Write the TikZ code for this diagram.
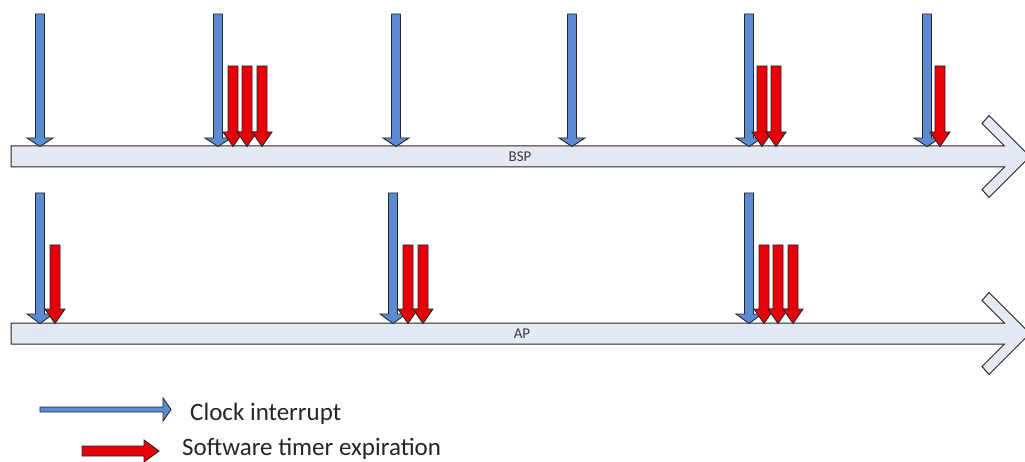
\documentclass[tikz,border=0pt]{standalone}
\usepackage{fontspec}
\setmainfont{Carlito}
\definecolor{clkblue}{HTML}{5B8CD3}
\definecolor{tmred}{HTML}{E60008}
\definecolor{barfill}{HTML}{E4EAF4}
\definecolor{txt}{HTML}{262626}
\tikzset{
  bluearr/.style={fill=clkblue, draw=black!85, line width=0.9pt, line join=miter},
  redarr/.style={fill=tmred, draw=black!85, line width=0.9pt, line join=miter},
  barstyle/.style={fill=barfill, draw=black!85, line width=1pt, line join=miter},
  barlabel/.style={font=\fontsize{15}{17}\selectfont, text=txt!90, inner sep=0pt},
  legendtext/.style={font=\fontsize{25}{30}\selectfont, text=txt, inner sep=0pt, anchor=base west}
}
% timeline bar with chevron head: #1 = y centre
\newcommand\mytl[1]{%
  \draw[barstyle] (11,#1-10.5) -- (1004.5,#1-10.5) -- (982,#1-33) -- (989,#1-41)
    -- (1030,#1) -- (989,#1+41) -- (982,#1+33) -- (1004.5,#1+10.5) -- (11,#1+10.5) -- cycle;}
% down arrow: x, top, head top, tip, shaft half width, head half width, style
\newcommand\mydarr[7]{%
  \draw[#7] (#1-#5,#2) -- (#1+#5,#2) -- (#1+#5,#3) -- (#1+#6,#3) -- (#1,#4)
    -- (#1-#6,#3) -- (#1-#5,#3) -- cycle;}
\newcommand\clkB[1]{\mydarr{#1}{14}{138}{146.5}{4.5}{13}{bluearr}}
\newcommand\tmB[1]{\mydarr{#1}{66}{132}{146.5}{5}{10}{redarr}}
\newcommand\clkA[1]{\mydarr{#1}{193}{314}{323.5}{4.5}{13}{bluearr}}
\newcommand\tmA[1]{\mydarr{#1}{245}{309}{323.5}{5}{10}{redarr}}
\begin{document}
\begin{tikzpicture}[x=1pt,y=-1pt]
\useasboundingbox (0,0) rectangle (1025,462);
\fill[white] (0,0) rectangle (1025,462);

% BSP timeline
\mytl{156.5}
\node[barlabel] (bsp) at (520,156.5) {BSP};
\clkB{40}
\clkB{218} \tmB{233} \tmB{247} \tmB{262}
\clkB{396}
\clkB{572}
\clkB{749} \tmB{762} \tmB{776}
\clkB{927} \tmB{940}

% AP timeline
\mytl{333.5}
\node[barlabel] (ap) at (522,333.5) {AP};
\clkA{40} \tmA{55}
\clkA{393} \tmA{408} \tmA{423}
\clkA{749} \tmA{764} \tmA{778} \tmA{793}

% legend
\draw[bluearr] (40,407) -- (163,407) -- (163,398) -- (171,409.5) -- (163,421)
  -- (163,412) -- (40,412) -- cycle;
\node[legendtext] (clk) at (190,420) {Clock interrupt};
\draw[redarr] (82,446) -- (144,446) -- (144,440) -- (159,451) -- (144,462)
  -- (144,456) -- (82,456) -- cycle;
\node[legendtext] (tmr) at (182,455) {Software timer expiration};
\end{tikzpicture}
\end{document}
